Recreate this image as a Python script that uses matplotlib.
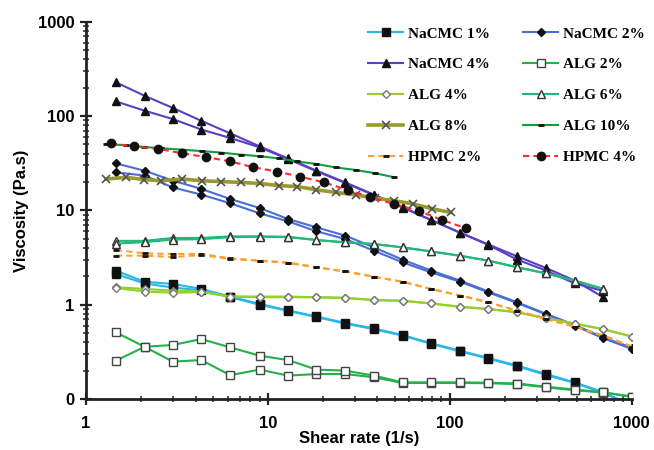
import matplotlib
matplotlib.use('Agg')
import matplotlib.pyplot as plt
from matplotlib.ticker import FixedLocator, FixedFormatter, LogLocator, NullFormatter

# shear rate grids (1/s)
shear_main = [1.46, 2.1, 3.0, 4.3, 6.2, 9.0, 12.9, 18.5, 26.6, 38.3, 55, 79, 114, 163, 235, 338, 486, 698, 1000]
shear_alg8 = [1.29, 1.66, 2.09, 2.6, 3.39, 4.32, 5.51, 7.09, 9.06, 11.5, 14.5, 18.5, 23.7, 30.4, 38.6, 49.2, 62.9, 80.2, 101]
shear_hpmc4 = [1.37, 1.84, 2.49, 3.39, 4.55, 6.18, 8.23, 11.2, 15.0, 20.3, 27.4, 36.6, 49.2, 67.4, 90.6, 122]

# viscosity (Pa.s), two runs for most samples
nacmc1_a = [2.29, 1.75, 1.66, 1.47, 1.22, 1.02, 0.87, 0.75, 0.64, 0.56, 0.476, 0.39, 0.325, 0.272, 0.226, 0.184, 0.15, 0.118, 0.085]
nacmc1_b = [2.11, 1.68, 1.52, 1.42, 1.2, 1.0, 0.86, 0.74, 0.63, 0.55, 0.47, 0.385, 0.32, 0.268, 0.222, 0.18, 0.148, 0.116, 0.085]
nacmc2_a = [31.5, 26.3, 20.7, 16.9, 13.2, 10.6, 8.1, 6.6, 5.4, 4.05, 3.0, 2.3, 1.8, 1.38, 1.06, 0.8, 0.61, 0.45, 0.35]
nacmc2_b = [25.3, 23.4, 17.5, 14.7, 11.9, 9.3, 7.65, 6.0, 4.97, 3.73, 2.81, 2.2, 1.75, 1.35, 1.04, 0.79, 0.6, 0.44, 0.34]
nacmc4_a = [228, 164, 122, 89, 65.6, 47.8, 35.5, 26.4, 19.8, 14.7, 10.8, 7.9, 5.8, 4.35, 3.25, 2.45, 1.8, 1.2]
nacmc4_b = [143, 114, 93, 72, 58.6, 46.6, 35, 26, 19.5, 14.5, 10.7, 7.9, 5.8, 4.3, 3.0, 2.3, 1.68, 1.4]
alg2_a = [0.509, 0.358, 0.249, 0.259, 0.179, 0.205, 0.177, 0.184, 0.184, 0.17, 0.148, 0.148, 0.148, 0.147, 0.144, 0.133, 0.124, 0.117, 0.106]
alg2_b = [0.255, 0.358, 0.374, 0.432, 0.353, 0.288, 0.259, 0.205, 0.2, 0.177, 0.15, 0.15, 0.15, 0.149, 0.146, 0.135, 0.126, 0.118, 0.106]
alg4_a = [1.53, 1.47, 1.41, 1.38, 1.22, 1.22, 1.22, 1.2, 1.18, 1.12, 1.1, 1.03, 0.95, 0.9, 0.83, 0.72, 0.63, 0.55, 0.46]
alg4_b = [1.5, 1.38, 1.34, 1.36, 1.22, 1.2, 1.2, 1.2, 1.18, 1.12, 1.1, 1.03, 0.95, 0.9, 0.83, 0.72, 0.63, 0.55, 0.46]
alg6_a = [4.75, 4.75, 5.1, 5.1, 5.3, 5.3, 5.25, 4.85, 4.58, 4.4, 4.05, 3.67, 3.3, 2.93, 2.49, 2.15, 1.8, 1.47]
alg6_b = [4.45, 4.6, 4.9, 4.95, 5.2, 5.25, 5.2, 4.85, 4.58, 4.4, 4.05, 3.67, 3.3, 2.93, 2.49, 2.15, 1.8, 1.47]
alg8 = [21.5, 22.4, 21.2, 20.6, 21.5, 20.6, 20.2, 19.8, 19.3, 18.3, 17.9, 16.5, 15.5, 14.6, 13.5, 12.7, 11.7, 10.4, 9.5]
alg10 = [50.5, 49, 47, 45.5, 44, 42.5, 41, 39, 37.5, 35.5, 33, 31, 28.5, 26.8, 24.8, 22.5]
hpmc2_a = [3.8, 3.5, 3.45, 3.45, 3.1, 2.93, 2.8, 2.49, 2.25, 1.98, 1.75, 1.47, 1.25, 1.06, 0.86, 0.705, 0.585, 0.47, 0.36]
hpmc2_b = [3.31, 3.31, 3.2, 3.36, 3.05, 2.93, 2.77, 2.49, 2.25, 1.98, 1.75, 1.47, 1.25, 1.06, 0.86, 0.705, 0.585, 0.47, 0.36]
hpmc4 = [51.4, 47.7, 45, 40.2, 36.8, 33.1, 28.8, 25.8, 22.8, 19.8, 16.5, 13.8, 11.7, 9.9, 7.9, 6.5]

y_ticks = [0.1, 1, 10, 100, 1000]
y_ticklabels = ['0', '1', '10', '100', '1000']
x_ticks = [1, 10, 100, 1000]
x_ticklabels = ['1', '10', '100', '1000']

fig = plt.figure(figsize=(6.54, 4.5), dpi=100)
ax = fig.add_axes([0.1315, 0.1133, 0.8344, 0.8384])

blk = '#111111'
styles = {
    'NaCMC 1%': dict(color='#29B6E8', marker='s', mfc=blk, mec=blk, ms=5.5, ls='-'),
    'NaCMC 2%': dict(color='#4A6ED6', marker='D', mfc=blk, mec=blk, ms=4.5, ls='-'),
    'NaCMC 4%': dict(color='#5A3FC4', marker='^', mfc=blk, mec=blk, ms=6, ls='-'),
    'ALG 2%': dict(color='#22B24A', marker='s', mfc='white', mec='#444444', ms=5.5, ls='-'),
    'ALG 4%': dict(color='#92D02C', marker='D', mfc='white', mec='#777777', ms=4.5, ls='-'),
    'ALG 6%': dict(color='#22B878', marker='^', mfc='white', mec='#333333', ms=6, ls='-'),
    'ALG 8%': dict(color='#9A9A2C', marker='x', mfc='none', mec='#555555', ms=6, mew=1.2, ls='-'),
    'ALG 10%': dict(color='#0E9F3E', marker='_', mfc=blk, mec=blk, ms=4, mew=2, ls='-'),
    'HPMC 2%': dict(color='#FFA030', marker='_', mfc=blk, mec=blk, ms=4, mew=2, ls=(0, (3, 2))),
    'HPMC 4%': dict(color='#FF2A2A', marker='o', mfc=blk, mec=blk, ms=6, ls=(0, (3, 2))),
}

series = [
    ('NaCMC 1%', shear_main, [nacmc1_a, nacmc1_b]),
    ('NaCMC 2%', shear_main, [nacmc2_a, nacmc2_b]),
    ('NaCMC 4%', shear_main, [nacmc4_a, nacmc4_b]),
    ('ALG 2%', shear_main, [alg2_a, alg2_b]),
    ('ALG 4%', shear_main, [alg4_a, alg4_b]),
    ('ALG 6%', shear_main, [alg6_a, alg6_b]),
    ('ALG 8%', shear_alg8, [alg8]),
    ('ALG 10%', shear_alg8, [alg10]),
    ('HPMC 2%', shear_main, [hpmc2_a, hpmc2_b]),
    ('HPMC 4%', shear_hpmc4, [hpmc4]),
]

handles = {}
for name, xs, runs in series:
    st = styles[name]
    lw = 2.6 if name == 'ALG 8%' else 1.5
    for i, ys in enumerate(runs):
        h, = ax.plot(xs[:len(ys)], ys, lw=lw, label=name if i == 0 else '_nolegend_', **st)
        if i == 0:
            handles[name] = h

ax.set_xscale('log')
ax.set_yscale('log')
ax.set_xlim(1, 1000)
ax.set_ylim(0.1, 1000)

ax.yaxis.set_major_locator(FixedLocator(y_ticks))
ax.yaxis.set_major_formatter(FixedFormatter(y_ticklabels))
ax.xaxis.set_major_locator(FixedLocator(x_ticks))
ax.xaxis.set_major_formatter(FixedFormatter(x_ticklabels))
for axis in (ax.xaxis, ax.yaxis):
    axis.set_minor_locator(LogLocator(base=10, subs=range(2, 10)))
    axis.set_minor_formatter(NullFormatter())

for s in ['top', 'right']:
    ax.spines[s].set_visible(False)
for s in ['left', 'bottom']:
    ax.spines[s].set_linewidth(2)
    ax.spines[s].set_color('#222222')

ax.tick_params(which='major', direction='inout', length=9, width=1.6, color='#222222')
ax.tick_params(which='minor', direction='inout', length=5, width=1.1, color='#222222')
ax.tick_params(axis='x', which='major', pad=8)
ax.tick_params(axis='y', which='major', pad=4)
for lab in ax.get_xticklabels() + ax.get_yticklabels():
    lab.set_fontfamily('Liberation Sans')
    lab.set_fontweight('bold')
    lab.set_fontsize(12)

ax.set_xlabel('Shear rate (1/s)', fontfamily='Liberation Sans', fontweight='bold', fontsize=12, labelpad=0)
ax.set_ylabel('Viscosity (Pa.s)', fontfamily='Liberation Sans', fontweight='bold', fontsize=12, labelpad=6)

order = ['NaCMC 1%', 'NaCMC 4%', 'ALG 4%', 'ALG 8%', 'HPMC 2%',
         'NaCMC 2%', 'ALG 2%', 'ALG 6%', 'ALG 10%', 'HPMC 4%']
leg = fig.legend([handles[n] for n in order], order, ncol=2, loc='upper left',
                 bbox_to_anchor=(368 / 654, 1 - 27 / 450), frameon=False,
                 borderpad=0, borderaxespad=0, handlelength=2.3, handletextpad=0.3,
                 columnspacing=2.2, labelspacing=1.12, numpoints=1,
                 prop={'family': 'Liberation Serif', 'weight': 'bold', 'size': 11})

plt.savefig('out.png', dpi=100)
